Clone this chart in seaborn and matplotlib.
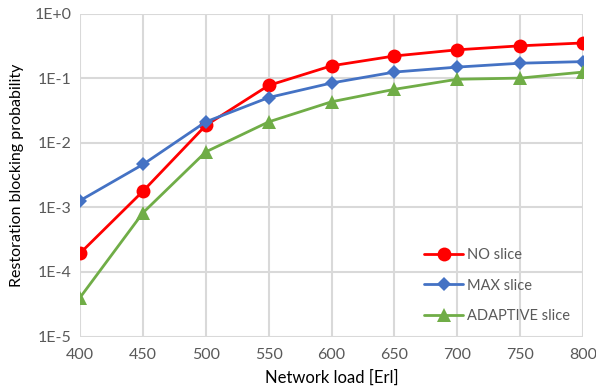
import pandas as pd
import seaborn as sns
import matplotlib.pyplot as plt
from matplotlib.ticker import FixedLocator, NullLocator

# =========================
# Data
# =========================
loads = [400, 450, 500, 550, 600, 650, 700, 750, 800]
no_slice = [1.94e-4, 1.77e-3, 1.85e-2, 7.7e-2, 0.155, 0.22, 0.274, 0.316, 0.35]
max_slice = [1.27e-3, 4.6e-3, 2.1e-2, 5.0e-2, 8.4e-2, 0.124, 0.148, 0.17, 0.18]
adaptive_slice = [4.0e-5, 8.2e-4, 7.2e-3, 2.1e-2, 4.3e-2, 6.7e-2, 9.6e-2, 0.10, 0.124]
series_names = ["NO slice", "MAX slice", "ADAPTIVE slice"]
y_ticks = [1e-5, 1e-4, 1e-3, 1e-2, 1e-1, 1e0]
y_tick_labels = ["1E-5", "1E-4", "1E-3", "1E-2", "1E-1", "1E+0"]

df = pd.DataFrame({
    "load": loads * 3,
    "prob": no_slice + max_slice + adaptive_slice,
    "series": [s for s in series_names for _ in loads],
})

# =========================
# Style
# =========================
sns.set_theme(style="white")
plt.rcParams["font.family"] = ["Lato", "DejaVu Sans"]

palette = {"NO slice": "#FF0000", "MAX slice": "#4472C4", "ADAPTIVE slice": "#70AD47"}
markers = {"NO slice": "o", "MAX slice": "D", "ADAPTIVE slice": "^"}
sizes = {"NO slice": 10, "MAX slice": 7.5, "ADAPTIVE slice": 10}
text_col = "#595959"
grid_col = "#D9D9D9"

fig = plt.figure(figsize=(5.96, 3.91), dpi=100)
ax = fig.add_axes([80 / 596, (391 - 336.5) / 391, 503 / 596, 323 / 391])

for name in series_names:
    sub = df[df["series"] == name]
    sns.lineplot(data=sub, x="load", y="prob", ax=ax, color=palette[name],
                 marker=markers[name], markersize=sizes[name], markeredgewidth=0,
                 linewidth=2, label=name, zorder=3)

ax.set_yscale("log")
ax.set_ylim(1e-5, 1)
ax.set_xlim(400, 800)
ax.set_xticks(loads)
ax.yaxis.set_major_locator(FixedLocator(y_ticks))
ax.yaxis.set_minor_locator(NullLocator())
ax.set_yticklabels(y_tick_labels)

ax.grid(True, color=grid_col, linewidth=1.5)
ax.set_axisbelow(True)
for sp in ax.spines.values():
    sp.set_visible(False)

ax.tick_params(axis="both", length=0, labelsize=11.5, labelcolor=text_col)
ax.tick_params(axis="x", pad=8)
ax.tick_params(axis="y", pad=6)
ax.set_xlabel("Network load [Erl]", fontsize=12, color="black", labelpad=6)
ax.set_ylabel("Restoration blocking probability", fontsize=11.5, color="black", labelpad=8)

leg = ax.legend(loc="lower right", frameon=False, fontsize=10.5, labelspacing=1.15,
                handlelength=2.7, handletextpad=0.25, bbox_to_anchor=(1.0, 0.0))
for t in leg.get_texts():
    t.set_color(text_col)

fig.savefig("out.png", dpi=100)
